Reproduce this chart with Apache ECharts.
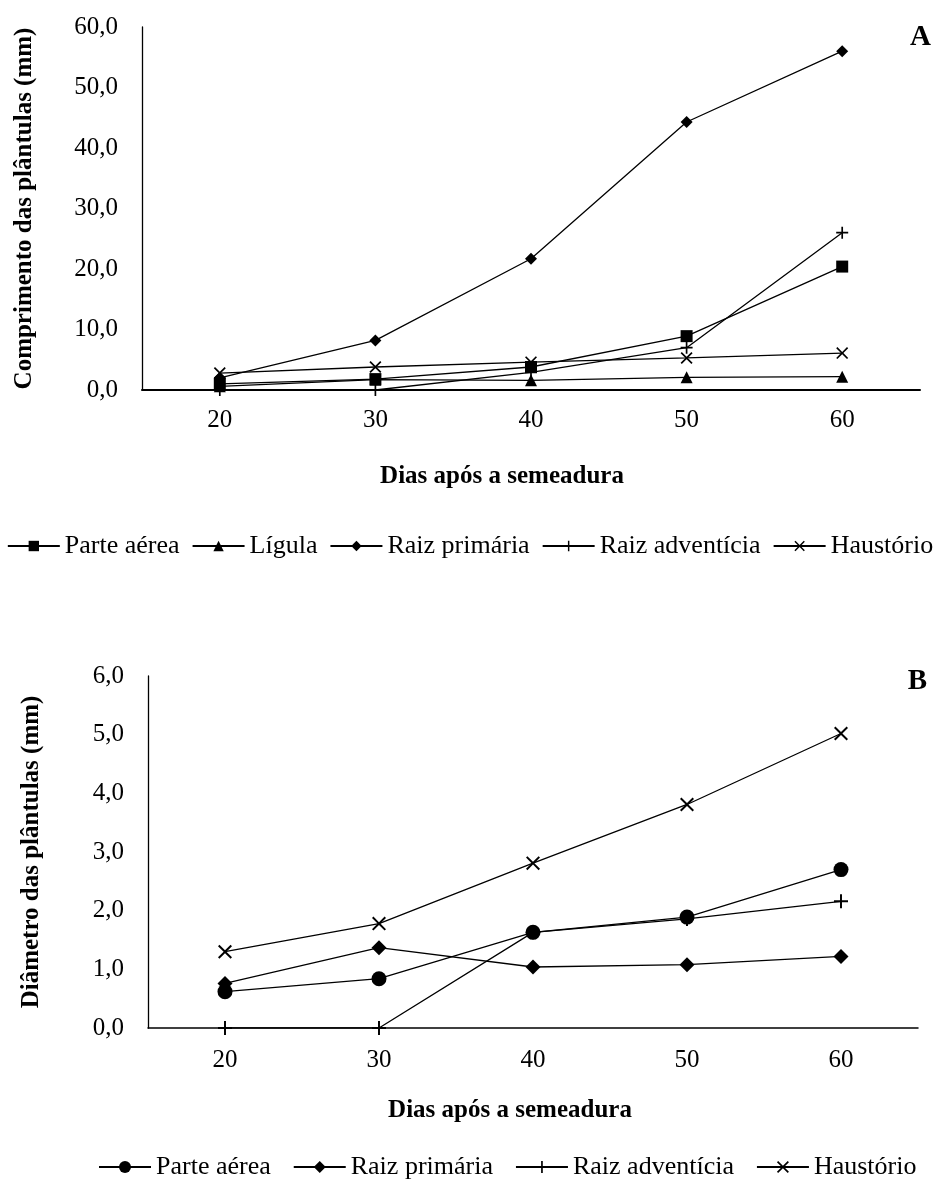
<!DOCTYPE html>
<html>
<head>
<meta charset="utf-8">
<script src="https://cdn.jsdelivr.net/npm/echarts@6/dist/echarts.min.js"></script>
<style>
html,body{margin:0;padding:0;background:#fff;}
#chart{width:940px;height:1188px;}
</style>
</head>
<body>
<div id="chart"></div>
<script>
// ---- Data ----
const days = ['20', '30', '40', '50', '60'];

// Panel A: Comprimento das plântulas (mm)
const parteAereaA = [1.0, 1.8, 3.8, 8.9, 20.4];
const ligulaA = [0.6, 1.7, 1.6, 2.1, 2.2];
const raizPrimariaA = [2.0, 8.2, 21.7, 44.3, 56.0];
const raizAdventiciaA = [0.0, 0.0, 2.9, 7.0, 26.0];
const haustorioA = [2.8, 3.8, 4.6, 5.3, 6.1];

// Panel B: Diâmetro das plântulas (mm)
const parteAereaB = [0.62, 0.84, 1.63, 1.89, 2.70];
const raizPrimariaB = [0.76, 1.37, 1.04, 1.08, 1.22];
const raizAdventiciaB = [0.0, 0.0, 1.63, 1.86, 2.16];
const haustorioB = [1.30, 1.78, 2.81, 3.81, 5.02];

const namesA = ['Parte aérea', 'Lígula', 'Raiz primária', 'Raiz adventícia', 'Haustório'];
const namesB = ['Parte aérea', 'Raiz primária', 'Raiz adventícia', 'Haustório'];

// ---- Styles ----
const FONT = 'Liberation Serif';
const PLUS = 'path://M4.3,0H5.7V4.3H10V5.7H5.7V10H4.3V5.7H0V4.3H4.3Z';
const CROSS = 'path://M0,1L1,0L5,4L9,0L10,1L6,5L10,9L9,10L5,6L1,10L0,9L4,5Z';
const fmt = v => v.toFixed(1).replace('.', ',');

function mkSeries(name, data, symbol, size, idx) {
  return {
    name: name,
    type: 'line',
    data: data,
    xAxisIndex: idx,
    yAxisIndex: idx,
    symbol: symbol,
    symbolSize: size,
    showAllSymbol: true,
    lineStyle: { color: '#000', width: 1.3 },
    itemStyle: { color: '#000' },
    emphasis: { disabled: true },
    animation: false
  };
}

const chart = echarts.init(document.getElementById('chart'), null, { renderer: 'canvas' });

const axisNameStyle = { fontFamily: FONT, fontSize: 25, fontWeight: 'bold', color: '#000' };
const tickStyle = { fontFamily: FONT, fontSize: 25, color: '#000' };

chart.setOption({
  backgroundColor: '#fff',
  animation: false,
  title: [
    { text: 'A', right: 4, top: 18, textStyle: { fontFamily: FONT, fontSize: 29, fontWeight: 'bold', color: '#000' } },
    { text: 'B', right: 8, top: 662, textStyle: { fontFamily: FONT, fontSize: 29, fontWeight: 'bold', color: '#000' } }
  ],
  grid: [
    { left: 142, right: 20, top: 27, height: 363 },
    { left: 148, right: 22, top: 676, height: 352 }
  ],
  legend: [
    {
      data: namesA,
      top: 528, left: 'center',
      itemWidth: 52, itemHeight: 13, itemGap: 12,
      textStyle: { fontFamily: FONT, fontSize: 26, color: '#000' },
      selectedMode: false
    },
    {
      data: namesB.map(n => n + ' '),
      formatter: n => n.trim(),
      top: 1149, left: 93,
      itemWidth: 52, itemHeight: 15, itemGap: 22,
      textStyle: { fontFamily: FONT, fontSize: 26, color: '#000' },
      selectedMode: false
    }
  ],
  xAxis: [
    {
      type: 'category', gridIndex: 0, data: days, boundaryGap: true,
      axisLine: { lineStyle: { color: '#000', width: 2 } },
      axisTick: { show: false },
      axisLabel: Object.assign({ margin: 18 }, tickStyle),
      name: 'Dias após a semeadura', nameLocation: 'middle', nameGap: 74,
      nameTextStyle: Object.assign({ padding: [0, 58, 0, 0] }, axisNameStyle)
    },
    {
      type: 'category', gridIndex: 1, data: days, boundaryGap: true,
      axisLine: { lineStyle: { color: '#000', width: 1.5 } },
      axisTick: { show: false },
      axisLabel: Object.assign({ margin: 20 }, tickStyle),
      name: 'Dias após a semeadura', nameLocation: 'middle', nameGap: 70,
      nameTextStyle: Object.assign({ padding: [0, 46, 0, 0] }, axisNameStyle)
    }
  ],
  yAxis: [
    {
      type: 'value', gridIndex: 0, min: 0, max: 60, interval: 10,
      axisLine: { show: true, lineStyle: { color: '#000', width: 1.3 } },
      axisTick: { show: false },
      splitLine: { show: false },
      axisLabel: Object.assign({ margin: 24, formatter: fmt }, tickStyle),
      name: 'Comprimento das plântulas (mm)', nameLocation: 'middle', nameGap: 105,
      nameTextStyle: axisNameStyle
    },
    {
      type: 'value', gridIndex: 1, min: 0, max: 6, interval: 1,
      axisLine: { show: true, lineStyle: { color: '#000', width: 1.3 } },
      axisTick: { show: false },
      splitLine: { show: false },
      axisLabel: Object.assign({ margin: 24, formatter: fmt }, tickStyle),
      name: 'Diâmetro das plântulas (mm)', nameLocation: 'middle', nameGap: 104,
      nameTextStyle: axisNameStyle
    }
  ],
  series: [
    mkSeries(namesA[0], parteAereaA, 'rect', 12, 0),
    mkSeries(namesA[1], ligulaA, 'triangle', 12, 0),
    mkSeries(namesA[2], raizPrimariaA, 'diamond', 12, 0),
    mkSeries(namesA[3], raizAdventiciaA, PLUS, 12, 0),
    mkSeries(namesA[4], haustorioA, CROSS, 12, 0),
    mkSeries(namesB[0] + ' ', parteAereaB, 'circle', 15, 1),
    mkSeries(namesB[1] + ' ', raizPrimariaB, 'diamond', 15, 1),
    mkSeries(namesB[2] + ' ', raizAdventiciaB, PLUS, 14, 1),
    mkSeries(namesB[3] + ' ', haustorioB, CROSS, 14, 1)
  ]
});
</script>
</body>
</html>
